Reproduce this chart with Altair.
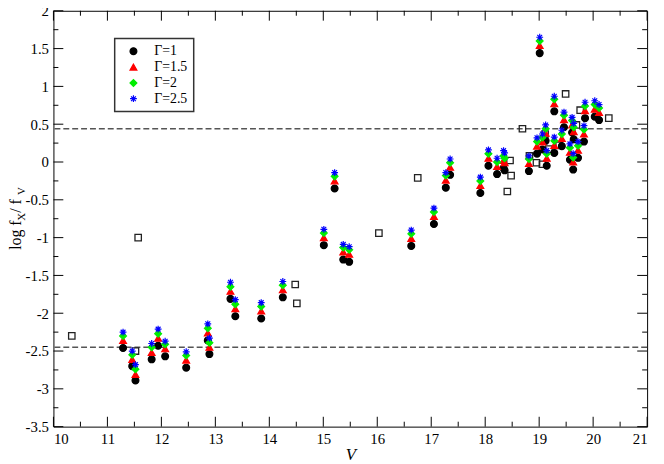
import altair as alt
import pandas as pd

# ---- data ----
V = [11.29, 11.46, 11.52, 11.82, 11.94, 12.07, 12.46, 12.86, 12.89, 13.28,
     13.37, 13.85, 14.25, 15.01, 15.21, 15.37, 15.48, 16.63, 17.05, 17.27,
     17.35, 17.91, 18.06, 18.22, 18.34, 18.36, 18.81, 18.96, 19.01, 19.06,
     19.12, 19.14, 19.28, 19.28, 19.42, 19.46, 19.57, 19.61, 19.63, 19.64,
     19.72, 19.83, 19.85, 20.03, 20.11]
g1 = [-2.46, -2.70, -2.89, -2.61, -2.43, -2.57, -2.72, -2.36, -2.54, -1.81,
      -2.04, -2.07, -1.79, -1.10, -0.35, -1.29, -1.32, -1.11, -0.82, -0.34,
      -0.17, -0.41, -0.05, -0.16, -0.08, -0.11, -0.12, 0.11, 1.44, 0.165,
      0.28, -0.05, 0.67, 0.12, 0.21, 0.46, 0.03, 0.39, -0.10, 0.30,
      0.055, 0.27, 0.58, 0.60, 0.555]
g15 = [-2.36, -2.61, -2.81, -2.52, -2.33, -2.47, -2.62, -2.26, -2.45, -1.71,
       -1.94, -1.97, -1.69, -1.00, -0.25, -1.19, -1.22, -1.01, -0.72, -0.24,
       -0.07, -0.31, 0.05, -0.06, 0.02, -0.01, -0.02, 0.21, 1.54, 0.265,
       0.38, 0.05, 0.77, 0.22, 0.31, 0.56, 0.13, 0.49, 0.00, 0.40,
       0.155, 0.37, 0.68, 0.70, 0.655]
g2 = [-2.30, -2.55, -2.74, -2.45, -2.27, -2.41, -2.56, -2.20, -2.39, -1.65,
      -1.88, -1.91, -1.63, -0.94, -0.19, -1.13, -1.16, -0.95, -0.66, -0.18,
      -0.01, -0.25, 0.11, 0.00, 0.08, 0.05, 0.04, 0.27, 1.60, 0.325,
      0.44, 0.11, 0.83, 0.28, 0.37, 0.62, 0.19, 0.55, 0.06, 0.46,
      0.215, 0.43, 0.74, 0.76, 0.715]
g25 = [-2.25, -2.50, -2.68, -2.40, -2.21, -2.37, -2.51, -2.14, -2.33, -1.59,
       -1.82, -1.86, -1.58, -0.89, -0.14, -1.09, -1.12, -0.90, -0.61, -0.14,
       0.04, -0.20, 0.16, 0.05, 0.15, 0.12, 0.08, 0.32, 1.65, 0.37,
       0.49, 0.15, 0.87, 0.33, 0.42, 0.66, 0.24, 0.59, 0.11, 0.51,
       0.27, 0.48, 0.79, 0.81, 0.76]

sq_V = [10.34, 11.52, 11.57, 14.48, 14.51, 16.03, 16.75, 18.41, 18.46, 18.48,
        18.69, 18.82, 18.95, 19.06, 19.11, 19.18, 19.37, 19.49, 19.69, 19.76, 20.29]
sq_r = [-2.30, -2.50, -1.00, -1.62, -1.87, -0.94, -0.21, -0.39, 0.02, -0.18,
        0.44, 0.08, -0.01, -0.03, 0.37, 0.17, 0.22, 0.90, 0.49, 0.685, 0.58]

labels = ["Γ=1", "Γ=1.5", "Γ=2", "Γ=2.5"]
dash_levels = [0.44, -2.45]

x_major = [10, 11, 12, 13, 14, 15, 16, 17, 18, 19, 20, 21]
x_minor = [10.5, 11.5, 12.5, 13.5, 14.5, 15.5, 16.5, 17.5, 18.5, 19.5, 20.5]
y_major = [-3.5, -3, -2.5, -2, -1.5, -1, -0.5, 0, 0.5, 1, 1.5, 2]
y_minor = [-3.25, -2.75, -2.25, -1.75, -1.25, -0.75, -0.25, 0.25, 0.75, 1.25, 1.75]

# ---- chart ----
W, H = 601, 421
SERIF = "Liberation Serif"

rows = []
for lab, vals in zip(labels, [g1, g15, g2, g25]):
    for v, r in zip(V, vals):
        rows.append({"V": v, "r": r, "g": lab})
df = pd.DataFrame(rows)
df_sq = pd.DataFrame({"V": sq_V, "r": sq_r})

xs = alt.Scale(domain=[10, 21], nice=False, zero=False)
ys = alt.Scale(domain=[-3.5, 2], nice=False, zero=False)

xaxis = alt.Axis(values=x_major, title="V", ticks=False, domain=False, grid=False,
                 labelPadding=5, labelExpr="'' + datum.value", labelOverlap=False)
yaxis = alt.Axis(values=y_major, title=None, ticks=False, domain=False, grid=False,
                 labelPadding=5, labelExpr="'' + datum.value", labelOverlap=False)

X = alt.X("V:Q", scale=xs, axis=xaxis)
Y = alt.Y("r:Q", scale=ys, axis=yaxis)

star = "M-1,0L1,0M0,-1L0,1M-0.7,-0.7L0.7,0.7M-0.7,0.7L0.7,-0.7"
colors = ["#000000", "#ff0000", "#00ee00", "#0000ff"]
shapes = ["circle", "triangle-up", "diamond", star]
sizes = [48, 48, 40, 60]

pts = alt.Chart(df).mark_point(filled=True, opacity=1, strokeWidth=1.2).encode(
    x=X, y=Y,
    color=alt.Color("g:N", scale=alt.Scale(domain=labels, range=colors), title=None),
    stroke=alt.Stroke("g:N", scale=alt.Scale(domain=labels, range=colors), title=None),
    shape=alt.Shape("g:N", scale=alt.Scale(domain=labels, range=shapes), title=None),
    size=alt.Size("g:N", scale=alt.Scale(domain=labels, range=sizes), title=None),
)

squares = alt.Chart(df_sq).mark_point(shape="square", filled=False, color="#222222",
                                      size=42, strokeWidth=1.3, opacity=1).encode(x=X, y=Y)

dashes = alt.Chart(pd.DataFrame({"r": dash_levels})).mark_rule(
    color="#555555", strokeWidth=1.5, strokeDash=[6, 3]).encode(y=Y)

def xticks(vals, length):
    d = pd.DataFrame({"V": vals})
    b = alt.Chart(d).mark_rule(color="black", strokeWidth=1).encode(
        x=X, y=alt.value(H), y2=alt.value(H - length))
    t = alt.Chart(d).mark_rule(color="black", strokeWidth=1).encode(
        x=X, y=alt.value(0), y2=alt.value(length))
    return [b, t]

def yticks(vals, length):
    d = pd.DataFrame({"r": vals})
    l = alt.Chart(d).mark_rule(color="black", strokeWidth=1).encode(
        y=Y, x=alt.value(0), x2=alt.value(length))
    rr = alt.Chart(d).mark_rule(color="black", strokeWidth=1).encode(
        y=Y, x=alt.value(W), x2=alt.value(W - length))
    return [l, rr]

ticks = xticks(x_major, 10) + xticks(x_minor, 5) + yticks(y_major, 10) + yticks(y_minor, 5)

def piece(txt, x, y, size):
    return alt.Chart(pd.DataFrame({"t": [txt]})).mark_text(
        angle=270, align="left", baseline="alphabetic", font=SERIF, fontSize=size,
        color="black").encode(text="t:N", x=alt.value(x), y=alt.value(y))

ytitle = [piece("log f", -33, 242, 16), piece("X", -29, 212.5, 11),
          piece(" / f", -33, 204.5, 16), piece("V", -29, 186.5, 11)]

chart = alt.layer(dashes, *ticks, squares, pts, *ytitle).properties(
    width=W, height=H,
    padding={"left": 46, "top": 0, "right": 9, "bottom": 35},
    autosize=alt.AutoSizeParams(type="none"),
).configure_view(stroke="black", strokeWidth=1).configure_axis(
    labelFont=SERIF, labelFontSize=15, labelColor="black", labelOverlap=False,
    titleFont=SERIF, titleFontSize=17, titleFontStyle="italic", titleFontWeight="normal",
    titleColor="black", titlePadding=0,
).configure_legend(
    orient="none", legendX=62, legendY=28, strokeColor="#333333", strokeWidth=1.5,
    fillColor="white", padding=6, rowPadding=2, labelFont=SERIF, labelFontSize=14,
    labelColor="black", labelOffset=14, symbolOffset=6, symbolStrokeWidth=1.2,
)

chart.save("out.html", embed_options={"renderer": "svg", "actions": False})
